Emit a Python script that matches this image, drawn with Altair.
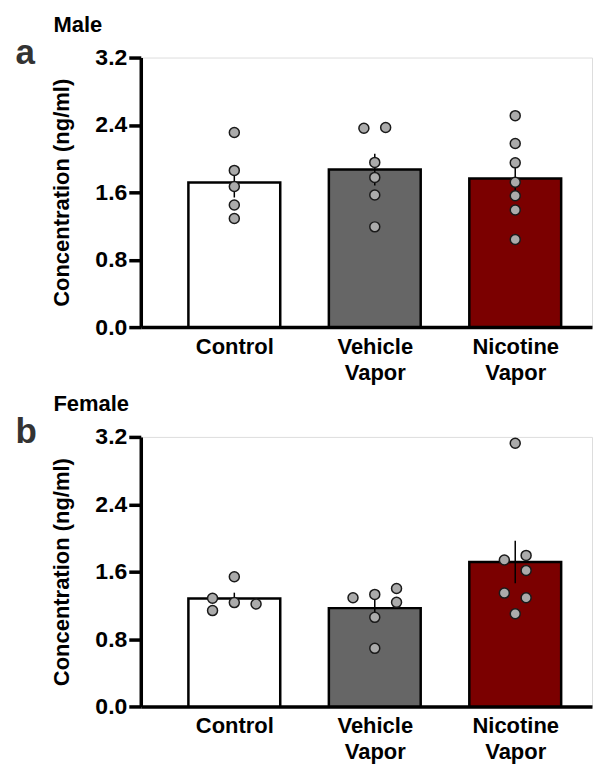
import json
import altair as alt
import pandas as pd

groups = ["Control", "Vehicle Vapor", "Nicotine Vapor"]
bar_colors = ["#ffffff", "#666666", "#7b0000"]
y_ticks = [0.0, 0.8, 1.6, 2.4, 3.2]

# Male (panel a): individual values and horizontal lane of each dot
male_control = [2.31, 1.86, 1.67, 1.45, 1.29]
male_control_lane = [0, 0, 0, 0, 0]
male_vehicle = [2.36, 2.37, 1.955, 1.777, 1.568, 1.19]
male_vehicle_lane = [-1, 1, 0, 0, 0, 0]
male_nicotine = [2.51, 2.18, 1.95, 1.72, 1.56, 1.39, 1.04]
male_nicotine_lane = [0, 0, 0, 0, 0, 0, 0]

# Female (panel b)
female_control = [1.284, 1.138, 1.54, 1.233, 1.216]
female_control_lane = [-2, -2, 0, 0, 2]
female_vehicle = [1.29, 1.33, 1.40, 1.236, 1.058, 0.69]
female_vehicle_lane = [-2, 0, 2, 2, 0, 0]
female_nicotine = [3.124, 1.738, 1.793, 1.615, 1.346, 1.29, 1.10]
female_nicotine_lane = [0, -1, 1, 1, -1, 1, 0]

FONT = "Liberation Sans"
YTITLE = "Concentration (ng/ml)"
LANE_STEP = 0.0775  # horizontal spacing of dots, in group units

GROUPS_JS = json.dumps(groups)
LABELS_JS = json.dumps([g.split(" ") for g in groups])


def build_df(series):
    rows = []
    for g, vals, lanes in series:
        for v, l in zip(vals, lanes):
            rows.append({"group": g, "value": v, "lane": l})
    return pd.DataFrame(rows)


male_df = build_df([
    ("Control", male_control, male_control_lane),
    ("Vehicle Vapor", male_vehicle, male_vehicle_lane),
    ("Nicotine Vapor", male_nicotine, male_nicotine_lane),
])
female_df = build_df([
    ("Control", female_control, female_control_lane),
    ("Vehicle Vapor", female_vehicle, female_vehicle_lane),
    ("Nicotine Vapor", female_nicotine, female_nicotine_lane),
])

W = 452


def panel(df, title, letter):
    base = alt.Chart(df).transform_calculate(idx=f"indexof({GROUPS_JS}, datum.group)")
    xscale = alt.Scale(domain=[-0.666, (W - 93.7) / 140.7], nice=False, zero=False, padding=0)
    xaxis = alt.Axis(
        title=None, values=[0, 1, 2], labelExpr=f"{LABELS_JS}[datum.value]", ticks=False,
        grid=False, labelAngle=0, labelFlush=False, labelOverlap=False,
        labelFontSize=22, labelFontWeight="bold", labelPadding=9, labelLineHeight=26,
        labelBaseline="top", domainWidth=3.5, domainColor="black", labelColor="black",
        labelFont=FONT,
    )
    yscale = alt.Scale(domain=[0, 3.2], nice=False, zero=True, padding=0)
    yaxis = alt.Axis(
        values=y_ticks, format=".1f", title=YTITLE, titleFontSize=22, titleFontWeight="bold",
        titleFont=FONT, titleColor="black", titlePadding=21,
        labelFontSize=23, labelFontWeight="bold", labelFont=FONT, labelColor="black",
        labelPadding=2, tickSize=12, tickWidth=3.5, tickColor="black",
        domainWidth=3.5, domainColor="black", grid=False,
    )

    agg = base.transform_aggregate(
        mean="mean(value)", se="stderr(value)", groupby=["group", "idx"]
    ).transform_calculate(lo="datum.mean - datum.se", hi="datum.mean + datum.se")

    bars = agg.mark_bar(stroke="black", strokeWidth=2.5, size=92).encode(
        x=alt.X("idx:Q", scale=xscale, axis=xaxis),
        y=alt.Y("mean:Q", scale=yscale, axis=yaxis, title=YTITLE),
        color=alt.Color("group:N", scale=alt.Scale(domain=groups, range=bar_colors), legend=None),
    )
    err = agg.mark_rule(color="black", strokeWidth=1.5).encode(
        x=alt.X("idx:Q", scale=xscale, axis=xaxis),
        y=alt.Y("lo:Q", scale=yscale, axis=yaxis, title=YTITLE),
        y2="hi:Q",
    )
    pts = base.transform_calculate(xp=f"datum.idx + datum.lane * {LANE_STEP}").mark_circle(
        size=100, fill="#ababab", stroke="#1a1a1a", strokeWidth=1.5, opacity=1
    ).encode(
        x=alt.X("xp:Q", scale=xscale, axis=xaxis),
        y=alt.Y("value:Q", scale=yscale, axis=yaxis, title=YTITLE),
    )
    head = alt.Chart(pd.DataFrame({"t": [title]})).mark_text(
        font=FONT, fontSize=22, fontWeight="bold", color="black", align="left", baseline="alphabetic"
    ).encode(text="t:N", x=alt.value(-87.5), y=alt.value(-26))
    lab = alt.Chart(pd.DataFrame({"t": [letter]})).mark_text(
        font=FONT, fontSize=35, fontWeight="bold", color="#333333", align="left", baseline="alphabetic"
    ).encode(text="t:N", x=alt.value(-125.5), y=alt.value(6))

    return alt.layer(bars, err, pts, head, lab).properties(width=W, height=270)


chart = alt.vconcat(
    panel(male_df, "Male", "a"),
    panel(female_df, "Female", "b"),
    spacing=8,
).properties(
    padding={"left": 7, "top": 4, "right": 0, "bottom": 0}
).configure_view(stroke=None).configure(font=FONT)

chart.save("out.html", embed_options={"renderer": "svg", "actions": False})
